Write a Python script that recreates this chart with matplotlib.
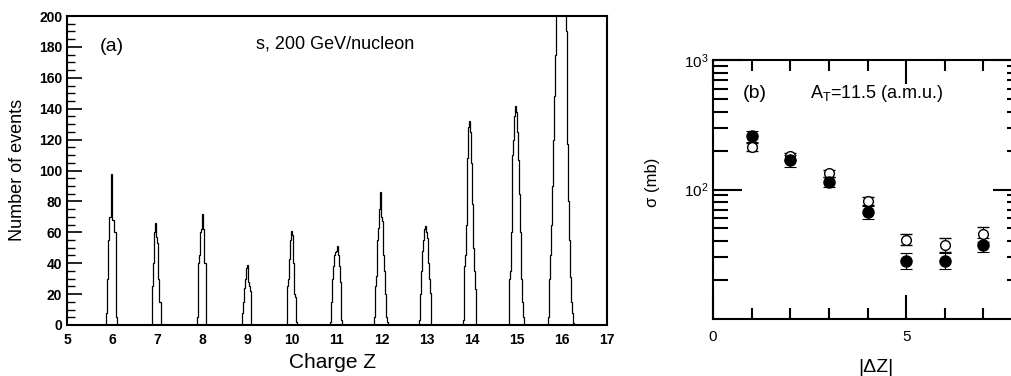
import numpy as np
import matplotlib
matplotlib.use('Agg')
import matplotlib.pyplot as plt
from matplotlib.ticker import MultipleLocator, LogLocator, NullFormatter

plt.rcParams['font.family'] = ['Liberation Sans', 'DejaVu Sans']
plt.rcParams['mathtext.fontset'] = 'custom'
plt.rcParams['mathtext.rm'] = 'Liberation Sans'
plt.rcParams['mathtext.it'] = 'Liberation Sans:italic'

# (a) charge histogram, bin width 0.02 in Z; each peak: first bin edge + counts
bin_width = 0.02
peak_starts = [5.86, 6.88, 7.90, 8.90, 9.90, 10.84, 11.82, 12.82, 13.80, 14.82, 15.70]
peak_counts = [
    [8, 30, 30, 55, 70, 70, 98, 68, 68, 60, 60, 5],
    [3, 25, 40, 60, 66, 57, 53, 30, 15, 15, 3],
    [5, 40, 45, 60, 62, 72, 62, 40, 40, 3],
    [8, 15, 24, 30, 37, 39, 28, 25, 22, 5],
    [25, 30, 43, 55, 61, 58, 40, 20, 18, 5, 2],
    [2, 15, 22, 30, 38, 45, 47, 48, 51, 45, 38, 28, 25, 3],
    [5, 25, 32, 42, 55, 63, 75, 86, 70, 67, 45, 35, 20, 15, 5, 2],
    [3, 20, 35, 47, 48, 55, 62, 64, 60, 56, 40, 30, 21, 5],
    [3, 38, 45, 65, 85, 108, 128, 132, 125, 105, 78, 50, 35, 23, 5],
    [30, 35, 60, 95, 110, 120, 135, 142, 138, 125, 107, 85, 60, 45, 30, 15, 5],
    [5, 30, 45, 65, 90, 120, 148, 175, 230, 270, 300, 320, 330, 335, 330,
     320, 300, 280, 250, 230, 190, 117, 80, 55, 31, 15, 8, 1],
]

# (b) cross sections vs |dZ|
dz = [1, 2, 3, 4, 5, 6, 7]
sigma_filled = [258, 168, 115, 67, 28.2, 28.2, 37.5]
err_filled = [25, 18, 11, 8, 4.0, 4.0, 4.8]
sigma_open = [213, 181, 134, 82, 41, 37.5, 45.3]
err_open = [15, 12, 8, 6, 4.0, 4.7, 6.0]

fig = plt.figure(figsize=(10.12, 3.76), dpi=100)

# ---- panel (a)
ax1 = fig.add_axes([67 / 1012, 51 / 376, 540 / 1012, 309 / 376])
for start, counts in zip(peak_starts, peak_counts):
    edges = start + bin_width * np.arange(len(counts) + 1)
    ax1.stairs(counts, edges, color='black', lw=0.9, baseline=0)
ax1.set_xlim(5, 17)
ax1.set_ylim(0, 200)
ax1.xaxis.set_major_locator(MultipleLocator(1))
ax1.yaxis.set_major_locator(MultipleLocator(20))
ax1.yaxis.set_minor_locator(MultipleLocator(5))
ax1.tick_params(axis='y', which='major', direction='in', length=11, width=1.2)
ax1.tick_params(axis='y', which='minor', direction='in', length=6, width=1.0)
ax1.tick_params(axis='x', length=0, pad=6)
for lab in ax1.get_xticklabels() + ax1.get_yticklabels():
    lab.set_fontweight('bold')
    lab.set_fontsize(10)
for sp in ax1.spines.values():
    sp.set_linewidth(1.5)
ax1.text(5.73, 180, '(a)', fontsize=14, va='center')
ax1.text(9.2, 182, 's, 200 GeV/nucleon', fontsize=13, va='center')
fig.text(18 / 1012, 1 - 170 / 376, 'Number of events', rotation=90,
         fontsize=13, ha='center', va='center')
fig.text(333 / 1012, 1 - 362 / 376, 'Charge Z', fontsize=15,
         ha='center', va='center')

# ---- panel (b)
ax2 = fig.add_axes([713 / 1012, 57 / 376, 309 / 1012, 259 / 376])
ax2.set_yscale('log')
ax2.errorbar(dz, sigma_open, yerr=err_open, fmt='o', mfc='white', mec='black',
             mew=1.0, ms=7, ecolor='black', elinewidth=0.8, capsize=4, capthick=0.8)
ax2.errorbar(dz, sigma_filled, yerr=err_filled, fmt='o', mfc='black', mec='black',
             ms=8, ecolor='black', elinewidth=0.8, capsize=4, capthick=0.8)
ax2.set_xlim(0, 8)
ax2.set_ylim(10, 1000)
ax2.xaxis.set_major_locator(MultipleLocator(5))
ax2.xaxis.set_minor_locator(MultipleLocator(1))
ax2.yaxis.set_minor_locator(LogLocator(base=10, subs=np.arange(2, 10), numticks=20))
ax2.yaxis.set_minor_formatter(NullFormatter())
ax2.set_yticks([100, 1000])
ax2.set_yticklabels([r'10$^2$', r'10$^3$'])
ax2.tick_params(axis='both', which='both', direction='in', top=True, right=True,
                labelsize=11)
ax2.tick_params(axis='y', which='major', length=21, width=1.5)
ax2.tick_params(axis='y', which='minor', length=11, width=1.5)
ax2.tick_params(axis='x', which='major', length=17, width=1.5, pad=8)
ax2.tick_params(axis='x', which='minor', length=8, width=1.5)
for sp in ax2.spines.values():
    sp.set_linewidth(1.5)
ax2.text(0.78, 555, '(b)', fontsize=14, va='center')
ax2.text(2.51, 555, r'A$_{\mathrm{T}}$=11.5 (a.m.u.)', fontsize=13, va='center')
fig.text(652 / 1012, 1 - 182 / 376, 'σ (mb)', rotation=90, fontsize=12,
         ha='center', va='center')
fig.text(876 / 1012, 1 - 367 / 376, '|ΔZ|', fontsize=14, ha='center', va='center')

fig.savefig('out.png', dpi=100)
